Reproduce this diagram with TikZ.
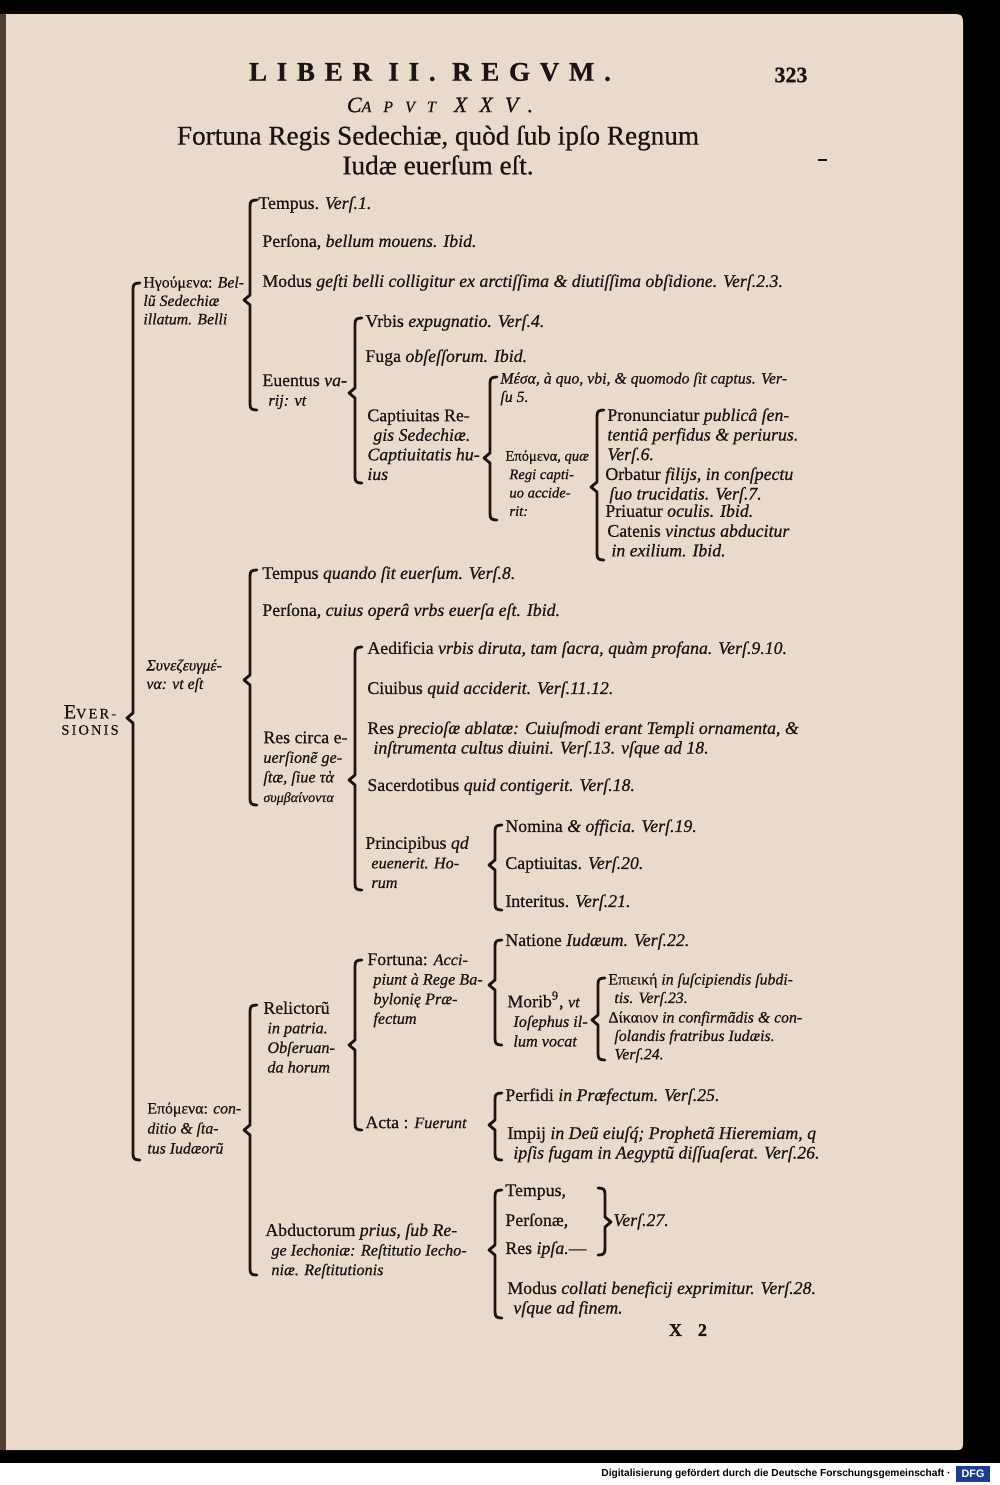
\documentclass[tikz,border=0pt]{standalone}
\usepackage{fontspec}
\setmainfont{Liberation Serif}[FakeBold=0.6]
\setsansfont{Liberation Sans}
\definecolor{ink}{RGB}{28,20,18}
\definecolor{paper}{RGB}{233,218,204}
\definecolor{spine}{RGB}{80,62,52}
\definecolor{dfgblue}{RGB}{30,60,140}
\newcommand{\BrL}[4]{\draw[br] (#1+7,#2) .. controls (#1+2,#2) and (#1,#2+1) .. (#1,#2+6) -- (#1,#3-5) -- (#1-6,#3) -- (#1,#3+5) -- (#1,#4-6) .. controls (#1,#4-1) and (#1+2,#4) .. (#1+7,#4);}
\newcommand{\BrR}[4]{\draw[br] (#1-7,#2) .. controls (#1-2,#2) and (#1,#2+1) .. (#1,#2+6) -- (#1,#3-5) -- (#1+6,#3) -- (#1,#3+5) -- (#1,#4-6) .. controls (#1,#4-1) and (#1-2,#4) .. (#1-7,#4);}
\newcommand{\smi}[1]{{\fontsize{8.1}{9.8}\selectfont\itshape #1}}
\begin{document}
\begin{tikzpicture}[x=0.5pt,y=-0.5pt,
 lab/.style={anchor=north west, inner sep=0pt, text=ink, align=left, font=\fontsize{8.9}{9.8}\selectfont},
 sml/.style={lab, font=\fontsize{7.9}{9.2}\selectfont},
 hdr/.style={inner sep=0pt, text=ink, anchor=center},
 br/.style={draw=ink, line width=1.4pt, line cap=round, line join=round}]
\useasboundingbox (0,0) rectangle (1000,1485);
% background
\fill[white] (0,0) rectangle (1000,1485);
\fill[black] (0,0) rectangle (1000,1463);
\fill[spine] (0,14) rectangle (7,1450);
\fill[paper] (6,14) -- (955,14) .. controls (961,14) and (963,16) .. (963,22) -- (963,1444) .. controls (963,1449) and (961,1450) .. (957,1450) -- (6,1450) -- cycle;
% header
\node[hdr, font=\bfseries\fontsize{13.5}{14}\selectfont\addfontfeature{LetterSpace=36}] (liber) at (430,72) {LIBER II. REGVM.};
\node[hdr, font=\bfseries\fontsize{11}{12}\selectfont] (pagenum) at (791,75) {323};
\node[hdr, font=\itshape\fontsize{11}{12}\selectfont] (caput) at (440,105) {C{\fontsize{8}{9}\selectfont\addfontfeature{LetterSpace=75}APVT}\hspace{9pt}{\addfontfeature{LetterSpace=55}XXV.}};
\node[hdr, font=\fontsize{13.6}{15}\selectfont] (title1) at (438,138) {Fortuna Regis Sedechiæ, quòd ſub ipſo Regnum};
\node[hdr, font=\fontsize{13.6}{15}\selectfont] (title2) at (438,165) {Iudæ euerſum eſt.};
\draw[ink, line width=1.2pt] (818,160) -- (827,160);
% root
\node[hdr, align=center, font=\fontsize{7.2}{8.2}\selectfont\addfontfeature{LetterSpace=15}] (root) at (90,720) {{\fontsize{10}{8}\selectfont E}VER-\\SIONIS};
\BrL{133}{283}{718}{1160}
% level 1
\node[sml] (hg) at (143,276) {Ηγούμενα: \textit{Bel-}\\ \textit{lũ Sedechiæ}\\ \textit{illatum. Belli}};
\node[sml] (syn) at (146,659) {\textit{Συνεζευγμέ-}\\ \textit{να: vt eſt}};
\node[sml, font=\fontsize{7.9}{10}\selectfont] (hep) at (147,1102) {Επόμενα: \textit{con-}\\ \textit{ditio \& ſta-}\\ \textit{tus Iudæorũ}};
% ---- branch A
\BrL{250}{200}{300}{410}
\node[lab] (a1) at (258,196) {Tempus. \textit{Verſ.1.}};
\node[lab] (a2) at (262,234) {Perſona, \textit{bellum mouens. Ibid.}};
\node[lab] (a3) at (262,274) {Modus \textit{geſti belli colligitur ex arctiſſima \& diutiſſima obſidione. Verſ.2.3.}};
\node[lab] (a4) at (262,374) {Euentus \textit{va-}\\ \hspace{3pt}\smi{rij: vt}};
\BrL{355}{318}{393}{483}
\node[lab] (b1) at (365,314) {Vrbis \textit{expugnatio. Verſ.4.}};
\node[lab] (b2) at (365,349) {Fuga \textit{obſeſſorum. Ibid.}};
\node[lab] (b3) at (367,409) {Captiuitas Re-\\ \hspace{3pt}\textit{gis Sedechiæ.}\\ \textit{Captiuitatis hu-}\\ \textit{ius}};
\BrL{490}{377}{458}{520}
\node[sml] (c1) at (500,372) {\textit{Μέσα, à quo, vbi, \& quomodo ſit captus. Ver-}\\ \textit{ſu 5.}};
\node[sml, font=\fontsize{7.3}{9.2}\selectfont] (c2) at (505,450) {Επόμενα, \textit{quæ}\\ \hspace{2pt}\textit{Regi capti-}\\ \hspace{2pt}\textit{uo accide-}\\ \hspace{2pt}\textit{rit:}};
\BrL{597}{410}{487}{560}
\node[lab] (d1) at (607,408) {Pronunciatur \textit{publicâ ſen-}\\ \textit{tentiâ perfidus \& periurus.}\\ \textit{Verſ.6.}};
\node[lab] (d2) at (605,467) {Orbatur \textit{filijs, in conſpectu}\\ \hspace{2pt}\textit{ſuo trucidatis. Verſ.7.}};
\node[lab] (d3) at (605,504) {Priuatur \textit{oculis. Ibid.}};
\node[lab] (d4) at (607,524) {Catenis \textit{vinctus abducitur}\\ \hspace{2pt}\textit{in exilium. Ibid.}};
% ---- branch E
\BrL{250}{570}{680}{805}
\node[lab] (e1) at (262,566) {Tempus \textit{quando ſit euerſum. Verſ.8.}};
\node[lab] (e2) at (262,603) {Perſona, \textit{cuius operâ vrbs euerſa eſt. Ibid.}};
\node[lab] (e3) at (263,731) {Res circa e-\\ \smi{uerſionẽ ge-}\\ \smi{ſtæ, ſiue τὰ}\\ {\fontsize{7}{9.8}\selectfont\itshape συμβαίνοντα}};
\BrL{355}{647}{780}{890}
\node[lab] (f1) at (367,641) {Aedificia \textit{vrbis diruta, tam ſacra, quàm profana. Verſ.9.10.}};
\node[lab] (f2) at (367,681) {Ciuibus \textit{quid acciderit. Verſ.11.12.}};
\node[lab] (f3) at (367,721) {Res \textit{precioſæ ablatæ: Cuiuſmodi erant Templi ornamenta, \&}\\ \hspace{3pt}\textit{inſtrumenta cultus diuini. Verſ.13. vſque ad 18.}};
\node[lab] (f4) at (367,778) {Sacerdotibus \textit{quid contigerit. Verſ.18.}};
\node[lab] (f5) at (365,836) {Principibus \textit{qd}\\ \hspace{3pt}\smi{euenerit. Ho-}\\ \hspace{3pt}\smi{rum}};
\BrL{495}{825}{865}{910}
\node[lab] (g1) at (505,819) {Nomina \textit{\& officia. Verſ.19.}};
\node[lab] (g2) at (505,856) {Captiuitas. \textit{Verſ.20.}};
\node[lab] (g3) at (505,894) {Interitus. \textit{Verſ.21.}};
% ---- branch H
\BrL{250}{1005}{1130}{1275}
\node[lab] (h1) at (263,1001) {Relictorũ\\ \hspace{2pt}\smi{in patria.}\\ \hspace{2pt}\smi{Obſeruan-}\\ \hspace{2pt}\smi{da horum}};
\node[lab] (h2) at (265,1223) {Abductorum \textit{prius, ſub Re-}\\ \hspace{3pt}\smi{ge Iechoniæ: Reſtitutio Iecho-}\\ \hspace{3pt}\smi{niæ. Reſtitutionis}};
\BrL{355}{960}{1045}{1130}
\node[lab] (i1) at (367,953) {Fortuna: \smi{Acci-}\\ \hspace{3pt}\smi{piunt à Rege Ba-}\\ \hspace{3pt}\smi{bylonię Præ-}\\ \hspace{3pt}\smi{fectum}};
\node[lab] (i2) at (365,1116) {Acta : \smi{Fuerunt}};
\BrL{495}{940}{985}{1045}
\node[lab] (j1) at (505,933) {Natione \textit{Iudæum. Verſ.22.}};
\node[lab] (j2) at (507,991) {Morib\textsuperscript{9}, \smi{vt}\\ \hspace{3pt}\smi{Ioſephus il-}\\ \hspace{3pt}\smi{lum vocat}};
\BrL{598}{978}{1020}{1060}
\node[sml] (k1) at (608,973) {Επιεική \textit{in ſuſcipiendis ſubdi-}\\ \hspace{3pt}\textit{tis. Verſ.23.}};
\node[sml] (k2) at (608,1011) {Δίκαιον \textit{in confirmãdis \& con-}\\ \hspace{3pt}\textit{ſolandis fratribus Iudæis.}\\ \hspace{3pt}\textit{Verſ.24.}};
\BrL{495}{1093}{1125}{1160}
\node[lab] (l1) at (505,1088) {Perfidi \textit{in Præfectum. Verſ.25.}};
\node[lab] (l2) at (507,1126) {Impij \textit{in Deũ eiuſq́; Prophetã Hieremiam, q}\\ \hspace{3pt}\textit{ipſis fugam in Aegyptũ diſſuaſerat. Verſ.26.}};
\BrL{495}{1190}{1250}{1318}
\node[lab] (m1) at (505,1184) {Tempus,};
\node[lab] (m2) at (505,1213) {Perſonæ,};
\node[lab] (m3) at (505,1241) {Res \textit{ipſa.}—};
\BrR{605}{1188}{1222}{1255}
\node[lab] (m5) at (613,1213) {\textit{Verſ.27.}};
\node[lab] (m4) at (507,1281) {Modus \textit{collati beneficij exprimitur. Verſ.28.}\\ \hspace{3pt}\textit{vſque ad finem.}};
\node[hdr, font=\bfseries\fontsize{9}{10}\selectfont] (sig) at (688,1330) {X\hspace{8pt}2};
% footer
\node[hdr, font=\sffamily\bfseries\fontsize{5.1}{6}\selectfont, text=black] (foot) at (776,1474) {Digitalisierung gefördert durch die Deutsche Forschungsgemeinschaft ·};
\node[hdr, fill=dfgblue, text=white, font=\sffamily\bfseries\fontsize{5.4}{6}\selectfont, minimum width=17pt, minimum height=8pt] (dfg) at (973,1474) {DFG};
\end{tikzpicture}
\end{document}
